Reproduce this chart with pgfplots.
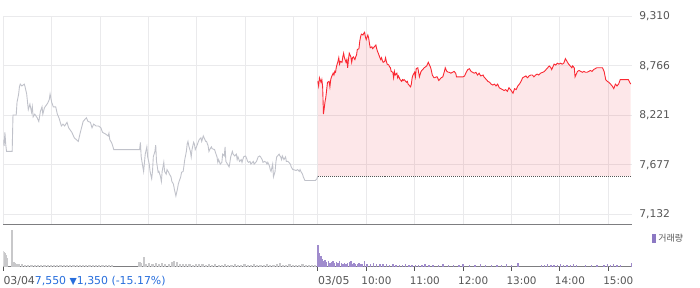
\documentclass[border=0pt]{standalone}
\usepackage{pgfplots}
\pgfplotsset{compat=1.18}
\usepackage{pgfplotstable}
\usepgfplotslibrary{fillbetween}
\usepackage{fontspec}
\setmainfont{DejaVu Sans}
\newfontfamily\krfont{Noto Sans CJK KR}
\definecolor{gridc}{RGB}{234,234,236}
\definecolor{prevline}{RGB}{192,194,202}
\definecolor{redline}{RGB}{250,40,50}
\definecolor{fillc}{RGB}{240,60,70}
\definecolor{labc}{RGB}{85,85,85}
\definecolor{volgray}{RGB}{200,200,202}
\definecolor{volpurple}{RGB}{160,140,205}
\definecolor{legpurple}{RGB}{140,120,195}
\definecolor{bluetxt}{RGB}{40,110,220}
\definecolor{axc}{RGB}{125,125,128}

\pgfplotstableread{
m p
0 7950
1 7880
2 8030
3 7900
4 7820
11 7820
12 8220
16 8220
17 8360
19 8450
20 8530
21 8560
23 8540
26 8560
27 8530
29 8450
31 8280
33 8340
35 8250
36 8310
37 8200
39 8230
42 8190
44 8150
46 8260
48 8310
49 8230
51 8300
55 8350
57 8390
58 8450
60 8360
62 8310
65 8310
67 8230
69 8190
72 8100
74 8120
76 8100
79 8140
81 8080
85 8030
88 7970
93 7930
95 8010
99 8150
103 8190
105 8150
108 8140
110 8080
112 8120
115 8100
118 8100
121 8080
123 8030
127 8010
130 7990
131 8020
132 7950
134 7920
135 7900
136 7870
137 7840
169 7840
170 7920
171 7760
173 7650
174 7600
176 7790
178 7870
179 7760
181 7680
182 7600
184 7520
185 7600
186 7760
188 7820
189 7890
190 7710
191 7650
192 7590
193 7600
195 7540
196 7490
197 7600
199 7700
200 7600
202 7570
203 7620
205 7590
206 7570
208 7540
209 7490
211 7460
212 7410
213 7370
214 7330
216 7410
217 7460
218 7490
220 7540
221 7590
223 7600
224 7660
225 7730
227 7820
228 7900
229 7930
230 7880
232 7820
233 7760
234 7840
236 7920
237 7900
238 7840
240 7880
242 7930
243 7950
245 7970
246 7930
248 7990
249 7970
251 7930
252 7930
254 7880
255 7820
256 7840
258 7870
259 7850
262 7840
263 7810
265 7760
266 7700
267 7730
269 7680
271 7700
272 7790
274 7770
275 7870
276 7710
278 7680
280 7650
281 7700
282 7760
284 7820
285 7790
287 7770
289 7790
290 7730
291 7760
293 7710
295 7730
296 7700
298 7760
300 7770
301 7760
303 7710
304 7700
306 7710
307 7680
309 7700
310 7710
311 7680
313 7700
314 7710
316 7760
318 7770
319 7760
321 7730
322 7700
324 7710
326 7700
327 7680
328 7700
330 7660
331 7620
332 7600
334 7680
335 7540
337 7600
338 7700
339 7760
340 7770
342 7790
343 7770
344 7760
345 7730
346 7770
348 7730
350 7760
351 7710
353 7710
354 7700
356 7680
357 7650
359 7620
360 7620
363 7610
365 7620
367 7600
368 7620
369 7600
371 7570
372 7540
374 7500
387 7500
389 7520
390 7550
}\dayA

\pgfplotstableread{
m p
390 8590
391 8540
392 8630
394 8580
395 8610
396 8530
397 8230
399 8370
400 8420
401 8500
402 8580
404 8590
405 8530
406 8610
407 8640
409 8680
410 8660
411 8700
412 8690
413 8750
415 8810
416 8850
417 8780
418 8810
420 8800
421 8860
422 8900
423 8850
425 8800
426 8830
427 8740
428 8830
429 8900
431 8860
432 8800
433 8850
434 8860
436 8830
437 8860
438 8880
439 8940
441 8950
442 9030
443 9080
444 9110
446 9100
447 9120
448 9130
449 9080
450 9050
452 9100
453 9070
454 9010
455 8960
457 8970
458 8950
459 8960
460 8970
462 8990
463 8950
464 8920
465 8900
467 8850
468 8830
469 8850
470 8820
471 8800
473 8810
474 8850
475 8810
476 8780
478 8770
479 8750
480 8740
481 8700
483 8690
484 8630
485 8700
486 8660
488 8680
489 8630
490 8650
491 8630
492 8610
494 8590
495 8610
496 8600
497 8610
499 8590
500 8580
501 8590
502 8560
504 8540
505 8530
506 8560
507 8630
508 8660
510 8690
511 8640
512 8730
514 8740
516 8640
518 8700
520 8720
522 8740
525 8760
527 8800
529 8760
530 8740
532 8660
534 8630
535 8630
537 8640
538 8640
540 8600
542 8620
543 8630
545 8640
547 8700
548 8740
550 8700
552 8690
553 8690
555 8680
557 8690
559 8700
561 8680
562 8640
566 8640
570 8640
572 8650
574 8690
576 8720
578 8730
580 8700
582 8690
584 8680
586 8690
588 8660
590 8680
592 8650
595 8660
596 8640
599 8610
601 8590
603 8580
605 8560
607 8550
609 8560
611 8540
613 8560
615 8520
617 8510
619 8500
621 8490
623 8500
625 8480
627 8520
629 8500
632 8460
634 8510
636 8500
638 8540
640 8560
642 8590
644 8630
646 8640
648 8650
650 8630
652 8650
654 8660
656 8660
658 8640
660 8660
662 8670
664 8660
666 8680
669 8690
671 8700
673 8720
675 8740
677 8760
679 8740
680 8720
682 8760
683 8780
685 8770
687 8790
689 8780
691 8790
693 8780
695 8790
697 8840
699 8810
701 8780
703 8760
705 8740
706 8760
708 8740
709 8640
710 8660
712 8700
714 8710
716 8700
718 8690
720 8700
722 8690
724 8690
726 8700
728 8710
730 8700
732 8720
734 8730
736 8740
738 8740
741 8740
743 8740
745 8700
747 8610
749 8590
751 8580
753 8560
755 8540
757 8510
759 8560
761 8540
763 8560
765 8610
775 8610
778 8560
}\dayB

\pgfplotstableread{
m v
0 16
1 15
2 14
3 12
4 9
11 37
13 5
15 4
17 3
19 3
23 2.5
27 2
31 2
35 1.5
39 2
43 2
47 1.5
51 2
55 1.5
59 2
63 2
67 1.5
71 1.5
75 2
79 1.5
83 2
87 1.5
91 1.5
95 2
99 1.5
103 2
107 1.5
111 1.5
115 2
119 2
123 1.5
127 1.5
131 2
135 1.5
169 5
171 4
174 10
177 3
181 4
185 3
189 4
193 3
197 4
201 3
205 3
209 5
212 6
215 5
219 3
223 3
227 2.5
231 2.5
235 2
239 3
243 2.5
247 3
251 2
255 2.5
259 2
263 2.5
267 2
271 2
275 2.5
279 2
283 2
287 2.5
291 2
295 2
299 2.5
303 2
307 2
311 2.5
315 2
319 2
323 2
327 2.5
331 2
335 2
339 2.5
343 4
347 2
351 2
355 2.5
359 2
363 2
367 2
371 2.5
375 2
379 2
383 2
387 2
}\volA

\pgfplotstableread{
m v
390 22
391 12
392 14
393 9
394 11
395 7
396 8
397 6
399 7
401 5
403 6
405 4
407 5
409 6
411 4
413 5
415 4
417 6
419 4
421 3
423 4
425 3
427 4
429 5
431 6
433 3
435 4
437 3
439 3
441 4
443 3
445 3
448 6
451 3
455 3
459 4
463 2.5
467 3
471 2.5
475 3
479 2
483 2.5
487 2
491 2
495 2
499 2.5
503 2
507 2
511 2
515 2
519 2
523 2.5
528 2
533 2
540 2
545 2.5
552 2
558 2
565 2
570 3
578 2
585 2
592 3
598 2
605 2
612 2
618 2
624 3
630 2
638 4
667 2
671 2
675 2.5
679 2
683 2
687 2
691 2.5
695 2
699 2
703 2
707 2.5
711 2
722 2
729 2
736 2
745 2
749 2.5
753 2
757 3
761 2
765 2
779 4
}\volB

\begin{document}
\begin{tikzpicture}
\path (0,0) rectangle (700bp,289bp);
\begin{axis}[
  at={(0,64bp)}, anchor=south west,
  scale only axis, width=632bp, height=209bp,
  xmin=0, xmax=780, ymin=7022.5, ymax=9310,
  axis x line*=bottom, axis y line*=right,
  x axis line style={-, draw=axc, line width=0.8bp},
  y axis line style={draw=none},
  xtick={0,60,120,180,240,300,360,390,450,510,570,630,690,750},
  xticklabels={},
  ytick={7132,7677,8221,8766,9310},
  major tick length=0pt,
  grid=major,
  major grid style={draw=gridc, line width=0.8bp},
  /pgf/number format/.cd, fixed, precision=0, 1000 sep={,}, assume math mode=true,
  /pgfplots/.cd,
  yticklabel style={font=\fontsize{10.8}{12}\selectfont, text=labc, anchor=west, xshift=3.5bp, text depth=0pt},
]
\addplot[prevline, line width=0.9bp] table[x=m, y=p] {\dayA};
\addplot[redline, line width=0.9bp, name path=today] table[x=m, y=p] {\dayB};
\addplot[name path=base, draw=labc, line width=0.7bp, dash pattern=on 1bp off 1bp] coordinates {(390,7550) (778,7550)};
\addplot[fill=fillc, fill opacity=0.12, draw=none] fill between[of=today and base];
\end{axis}

\begin{axis}[
  at={(0,21bp)}, anchor=south west,
  scale only axis, width=632bp, height=43bp,
  xmin=0, xmax=780, ymin=0, ymax=43,
  axis x line*=bottom, axis y line=none,
  x axis line style={-, draw=axc, line width=0.8bp},
  xtick={450,510,570,630,690,750},
  xticklabels={10:00,11:00,12:00,13:00,14:00,15:00},
  extra x ticks={0,390},
  extra x tick labels={03/04{\color{bluetxt}7,550 {\fontsize{9.5}{10}\selectfont▼}1,350 (-15.17\%)},03/05},
  extra x tick style={xticklabel style={anchor=north west, xshift=5bp, font=\fontsize{11}{12}\selectfont}},
  tick align=outside,
  major tick length=4bp,
  tick style={draw=labc, line width=0.8bp},
  xticklabel style={font=\fontsize{10.5}{12}\selectfont, text=labc, inner sep=0pt, text height=8bp, text depth=2bp, yshift=-6bp, anchor=north west, xshift=-5bp},
  legend style={at={(axis description cs:1,1)}, anchor=north west, xshift=20bp, yshift=-8bp,
    draw=none, fill=none, inner sep=0pt,
    font=\krfont\fontsize{9}{10}\selectfont, text=labc},
  legend image code/.code={\fill[legpurple] (0bp,-3.7bp) rectangle (2.6bp,3.7bp);},
]
\addplot[ycomb, volgray, line width=2.2bp, forget plot] table[x=m, y=v] {\volA};
\addplot[ycomb, volpurple, line width=1.4bp] table[x=m, y=v] {\volB};
\addlegendentry{거래량}
\end{axis}
\end{tikzpicture}
\end{document}
